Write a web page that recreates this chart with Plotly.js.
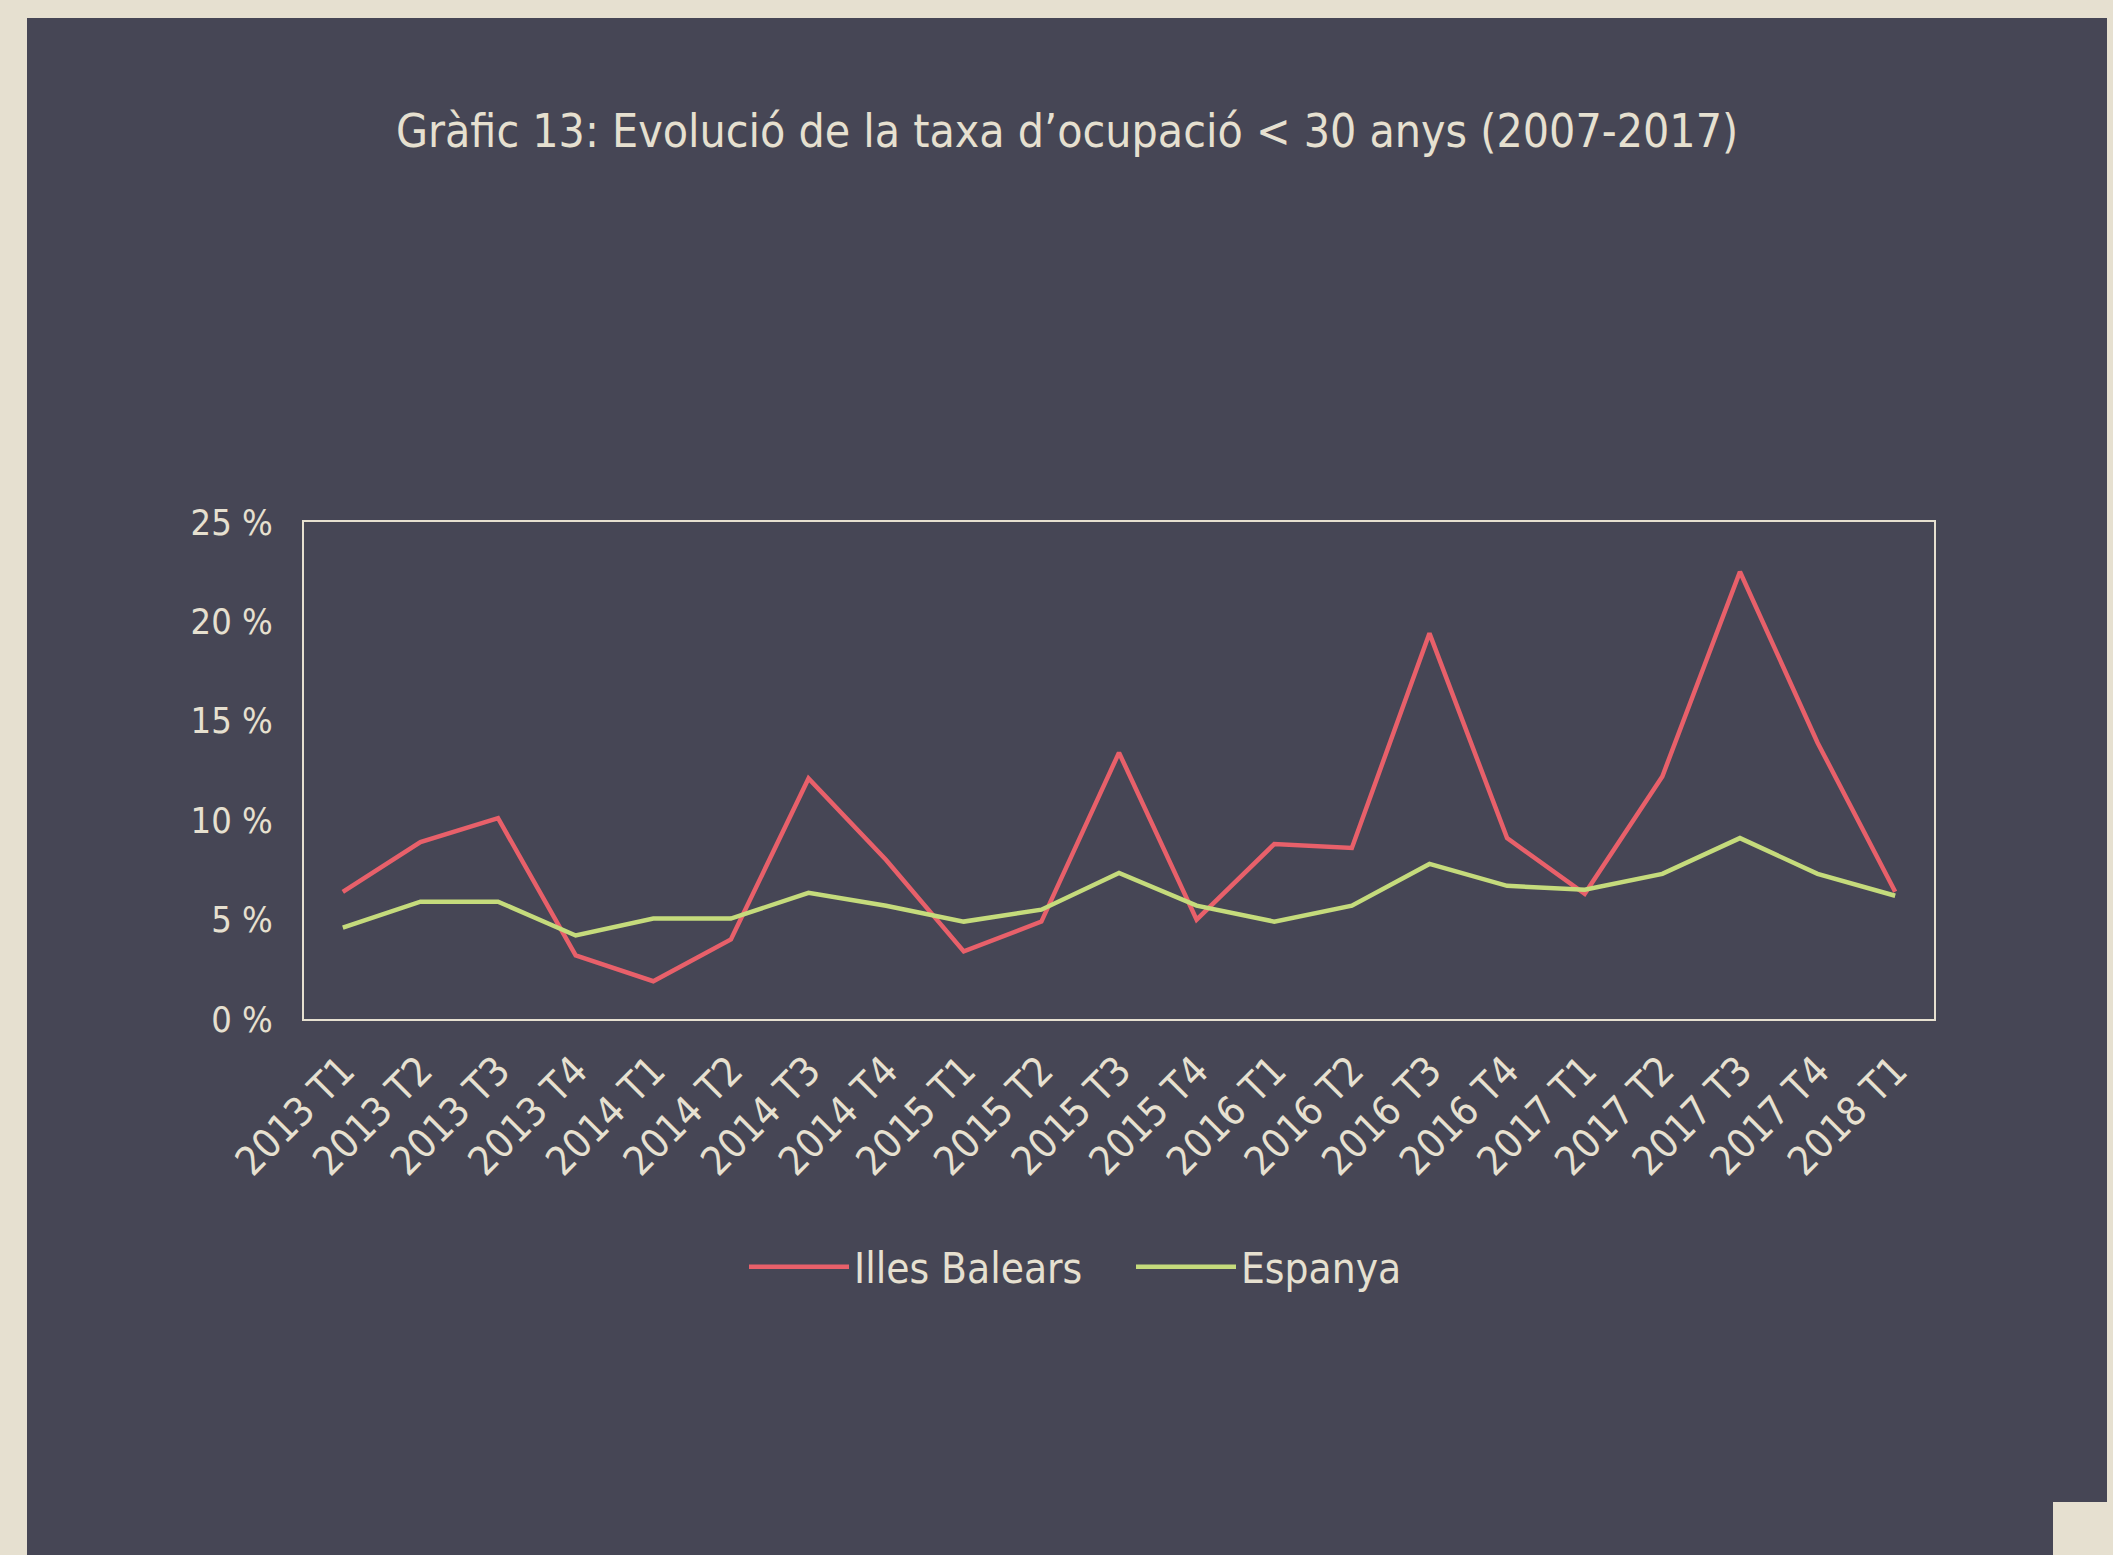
<!DOCTYPE html>
<html>
<head>
<meta charset="utf-8">
<script src="https://cdn.plot.ly/plotly-3.0.1.min.js"></script>
<style>
html,body{margin:0;padding:0;background:#e6e0d0;}
#chart{width:2113px;height:1555px;}
</style>
</head>
<body>
<div id="chart"></div>
<script>
const categories = ["2013 T1","2013 T2","2013 T3","2013 T4","2014 T1","2014 T2","2014 T3","2014 T4",
  "2015 T1","2015 T2","2015 T3","2015 T4","2016 T1","2016 T2","2016 T3","2016 T4",
  "2017 T1","2017 T2","2017 T3","2017 T4","2018 T1"];
const illesBalears = [6.4, 8.9, 10.1, 3.2, 1.9, 4.0, 12.1, 8.0, 3.4, 4.9, 13.4, 5.0, 8.8, 8.6, 19.4, 9.1, 6.3, 12.2, 22.5, 13.9, 6.4];
const espanya = [4.6, 5.9, 5.9, 4.2, 5.05, 5.05, 6.35, 5.7, 4.9, 5.5, 7.35, 5.7, 4.9, 5.7, 7.8, 6.7, 6.5, 7.3, 9.1, 7.3, 6.2];
const yTicks = [0, 5, 10, 15, 20, 25];

const W = 2113, H = 1555;
const L = 304, R = 1934, T = 522, B = 1019;
const pw = R - L, ph = B - T;
const px = x => (x - L) / pw;
const py = y => (B - y) / ph;

const beige = '#e6e0d0';
const dark = '#464655';
const fontFam = '"DejaVu Sans Condensed", "DejaVu Sans", sans-serif';

const traces = [
  {x: categories, y: illesBalears, type: 'scatter', mode: 'lines', name: 'Illes Balears',
   line: {color: '#e8606a', width: 4.5}},
  {x: categories, y: espanya, type: 'scatter', mode: 'lines', name: 'Espanya',
   line: {color: '#c5db7c', width: 4.5}}
];

const layout = {
  width: W, height: H,
  margin: {l: L, r: W - R, t: T, b: H - B, pad: 0},
  paper_bgcolor: beige,
  plot_bgcolor: dark,
  font: {family: fontFam, color: beige, size: 36},
  title: {text: 'Gràfic 13: Evolució de la taxa d’ocupació < 30 anys (2007-2017)',
          font: {family: fontFam, size: 46, color: beige},
          x: px(1067), xref: 'paper', xanchor: 'center',
          y: 1 - 131 / H, yref: 'container', yanchor: 'middle'},
  xaxis: {type: 'category', range: [-0.5, categories.length - 0.5], tickangle: -45,
          showgrid: false, zeroline: false, showline: true, mirror: true,
          linecolor: beige, linewidth: 2, ticks: '', ticklabelstandoff: 10,
          tickfont: {family: fontFam, size: 40, color: beige}, fixedrange: true},
  yaxis: {range: [0, 25], tickvals: yTicks, ticktext: yTicks.map(v => v + ' %'),
          showgrid: false, zeroline: false, showline: true, mirror: true,
          linecolor: beige, linewidth: 2, ticks: '', ticklabelstandoff: 22,
          tickfont: {family: fontFam, size: 36, color: beige}, fixedrange: true},
  showlegend: true,
  legend: {orientation: 'h', x: px(744), xanchor: 'left', y: py(1267), yanchor: 'middle',
           font: {family: fontFam, size: 42, color: beige}, itemwidth: 100,
           entrywidth: 272, entrywidthmode: 'pixels',
           bgcolor: 'rgba(0,0,0,0)', tracegroupgap: 0},
  shapes: [
    {type: 'rect', xref: 'paper', yref: 'paper', layer: 'below',
     x0: px(27), x1: px(2107), y0: py(18), y1: py(1560),
     fillcolor: dark, line: {width: 0}},
    {type: 'rect', xref: 'paper', yref: 'paper', layer: 'below',
     x0: px(2053), x1: px(2120), y0: py(1502), y1: py(1560),
     fillcolor: beige, line: {width: 0}}
  ]
};

Plotly.newPlot('chart', traces, layout, {displayModeBar: false, staticPlot: true});
</script>
</body>
</html>
